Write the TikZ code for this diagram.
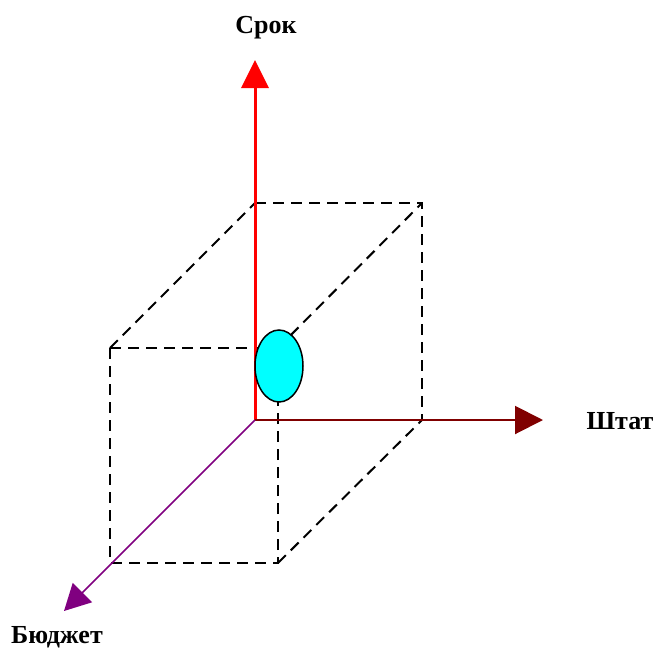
\documentclass[tikz,border=0pt]{standalone}
\usepackage{fontspec}
\setmainfont{Liberation Serif}
\usetikzlibrary{arrows.meta,shapes.geometric}
\definecolor{axbrown}{RGB}{128,0,0}
\definecolor{axpurple}{RGB}{128,0,128}
\definecolor{blobcyan}{RGB}{0,255,255}
\tikzset{
  edge/.style={black,line width=2pt,dash pattern=on 11pt off 7pt},
  lbl/.style={font=\fontsize{26}{30}\selectfont\bfseries,inner sep=0pt}
}
\begin{document}
\begin{tikzpicture}[x=1pt,y=-1pt]
\useasboundingbox (0,0) rectangle (656,648);
% corners
\coordinate (O) at (255,420);
\coordinate (BTL) at (255,203);
\coordinate (BTR) at (422,203);
\coordinate (BBR) at (422,420);
\coordinate (FTL) at (110,348);
\coordinate (FTR) at (278,348);
\coordinate (FBL) at (110,563);
\coordinate (FBR) at (278,563);
\coordinate (Ytip) at (255,60);
\coordinate (Xtip) at (543,420);
\coordinate (Ztip) at (64,611);
% dashed cube edges
\draw[edge] (BTL) -- (BTR) -- (BBR);
\draw[edge] (FTL) -- (BTL);
\draw[edge] (FTR) -- (BTR);
\draw[edge] (FBR) -- (BBR);
\draw[edge] (FTL) -- (FTR);
\draw[edge] (FTL) -- (FBL) -- (FBR) -- (FTR);
% axes
\draw[red,line width=3pt,-{Triangle[length=28pt,width=27pt]}] (O) -- (Ytip);
\draw[axbrown,line width=2pt,-{Triangle[length=28pt,width=28pt]}] (O) -- (Xtip);
\draw[axpurple,line width=1.5pt,-{Triangle[length=26pt,width=27pt]}] (O) -- (Ztip);
% ellipse
\node[ellipse,draw=black,line width=1.5pt,fill=blobcyan,minimum width=48pt,minimum height=72pt,inner sep=0pt] (E) at (279,366) {};
% labels
\node[lbl] (Lsrok) at (266,28) {Срок};
\node[lbl] (Lshtat) at (620,421) {Штат};
\node[lbl] (Lbudg) at (57,637) {Бюджет};
\end{tikzpicture}
\end{document}
